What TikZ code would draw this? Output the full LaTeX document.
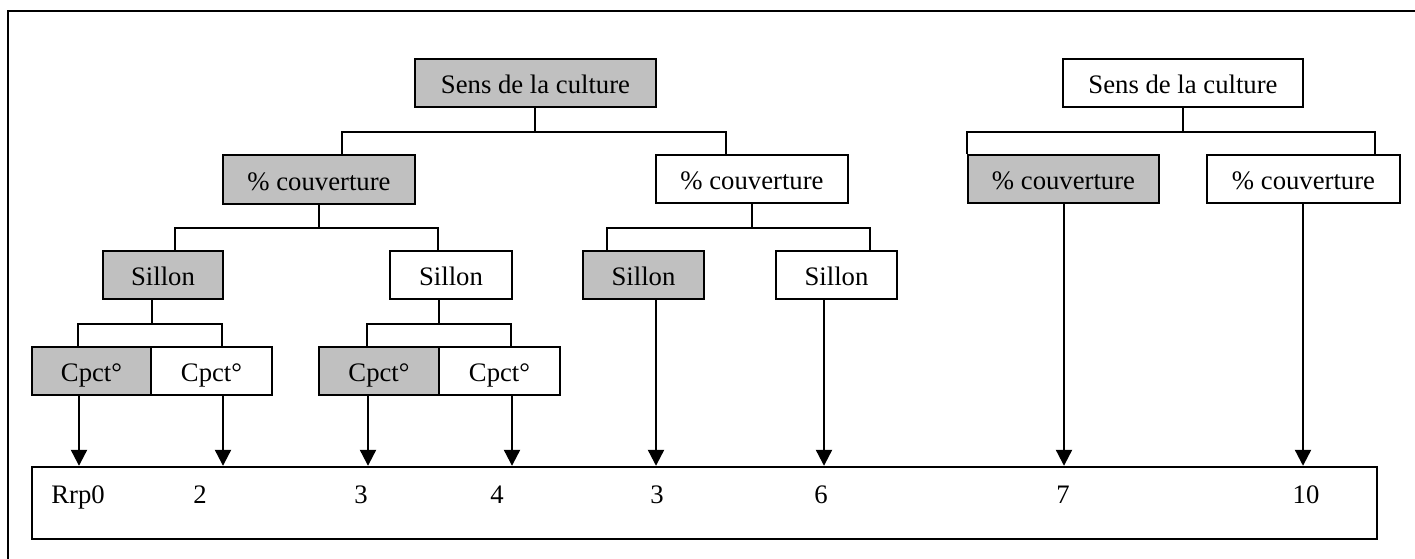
\documentclass[tikz,border=0pt]{standalone}
\usepackage{fontspec}
\setmainfont{Liberation Serif}
\usetikzlibrary{arrows.meta}
\definecolor{boxgrey}{RGB}{192,192,192}
\tikzset{
  bx/.style={draw=black, line width=2.4pt, inner sep=0pt, text height=22.7pt, text depth=0.8pt,
    font=\fontsize{26.7}{32}\selectfont},
  gbx/.style={bx, fill=boxgrey},
  wbx/.style={bx, fill=white},
  conn/.style={draw=black, line width=2.2pt},
  arr/.style={conn, -{Triangle[width=16pt,length=16pt]}},
  val/.style={anchor=base, inner sep=0pt, font=\fontsize{26.7}{32}\selectfont},
  frame/.style={draw=black, line width=2.8pt}
}
\begin{document}
\begin{tikzpicture}[x=1pt,y=-1pt]
\useasboundingbox (0,0) rectangle (1415,559);
\clip (0,0) rectangle (1415,559);
\fill[white] (0,0) rectangle (1415,559);
\draw[frame] (8,600) -- (8,11) -- (1450,11);

% left tree
\node[gbx, minimum width=241pt, minimum height=48pt] (r1) at (535.5,83) {Sens de la culture};
\node[gbx, minimum width=192pt, minimum height=49pt] (c1) at (319,179.5) {\% couverture};
\node[wbx, minimum width=192pt, minimum height=48pt] (c2) at (752,179) {\% couverture};
\node[gbx, minimum width=120pt, minimum height=48pt] (s1) at (163,275) {Sillon};
\node[wbx, minimum width=122pt, minimum height=48pt] (s2) at (451,275) {Sillon};
\node[gbx, minimum width=121pt, minimum height=48pt] (s3) at (643.5,275) {Sillon};
\node[wbx, minimum width=121pt, minimum height=48pt] (s4) at (836.5,275) {Sillon};
\node[gbx, minimum width=119pt, minimum height=48pt] (p1) at (91.5,371) {Cpct°};
\node[wbx, minimum width=121pt, minimum height=48pt] (p2) at (211.5,371) {Cpct°};
\node[gbx, minimum width=120pt, minimum height=48pt] (p3) at (379,371) {Cpct°};
\node[wbx, minimum width=121pt, minimum height=48pt] (p4) at (499.5,371) {Cpct°};

% right tree
\node[wbx, minimum width=240pt, minimum height=48pt] (r2) at (1183,83) {Sens de la culture};
\node[gbx, minimum width=191pt, minimum height=48pt] (c3) at (1063.5,179) {\% couverture};
\node[wbx, minimum width=193pt, minimum height=48pt] (c4) at (1303.5,179) {\% couverture};

% result box
\node[draw=black, line width=2.4pt, minimum width=1345pt, minimum height=72pt, inner sep=0pt] (res) at (704.5,503) {};
\node[val] (v1) at (78,503) {Rrp0};
\node[val] (v2) at (200,503) {2};
\node[val] (v3) at (361,503) {3};
\node[val] (v4) at (497,503) {4};
\node[val] (v5) at (657,503) {3};
\node[val] (v6) at (821,503) {6};
\node[val] (v7) at (1063,503) {7};
\node[val] (v8) at (1306,503) {10};

% tree connectors
\draw[conn] ([xshift=-0.5pt]r1.south) -- ++(0,24) -| ([xshift=120pt]c1.north west);
\draw[conn] ([xshift=-0.5pt]r1.south) ++(0,24) -| ([xshift=71pt]c2.north west);
\draw[conn] (c1.south) -- ++(0,23) -| ([xshift=49pt]s2.north west);
\draw[conn] (c1.south) ++(0,23) -| ([xshift=73pt]s1.north west);
\draw[conn] (c2.south) -- ++(0,24) -| ([xshift=25pt]s3.north west);
\draw[conn] (c2.south) ++(0,24) -| ([xshift=95pt]s4.north west);
\draw[conn] ([xshift=-11pt]s1.south) -- ++(0,24) -| ([xshift=47pt]p1.north west);
\draw[conn] ([xshift=-11pt]s1.south) ++(0,24) -| ([xshift=72pt]p2.north west);
\draw[conn] ([xshift=-12pt]s2.south) -- ++(0,24) -| ([xshift=49pt]p3.north west);
\draw[conn] ([xshift=-12pt]s2.south) ++(0,24) -| ([xshift=73pt]p4.north west);
\draw[conn] (r2.south) -- ++(0,24) -| (c3.north west);
\draw[conn] (r2.south) ++(0,24) -| ([xshift=169pt]c4.north west);

% arrows to result box
\draw[arr] ([xshift=-12.5pt]p1.south) -- ([xshift=-12.5pt]p1.south |- res.north);
\draw[arr] ([xshift=11.5pt]p2.south) -- ([xshift=11.5pt]p2.south |- res.north);
\draw[arr] ([xshift=-11pt]p3.south) -- ([xshift=-11pt]p3.south |- res.north);
\draw[arr] ([xshift=12.5pt]p4.south) -- ([xshift=12.5pt]p4.south |- res.north);
\draw[arr] ([xshift=12.5pt]s3.south) -- ([xshift=12.5pt]s3.south |- res.north);
\draw[arr] ([xshift=-12.5pt]s4.south) -- ([xshift=-12.5pt]s4.south |- res.north);
\draw[arr] ([xshift=0.5pt]c3.south) -- ([xshift=0.5pt]c3.south |- res.north);
\draw[arr] ([xshift=-0.5pt]c4.south) -- ([xshift=-0.5pt]c4.south |- res.north);
\end{tikzpicture}
\end{document}
